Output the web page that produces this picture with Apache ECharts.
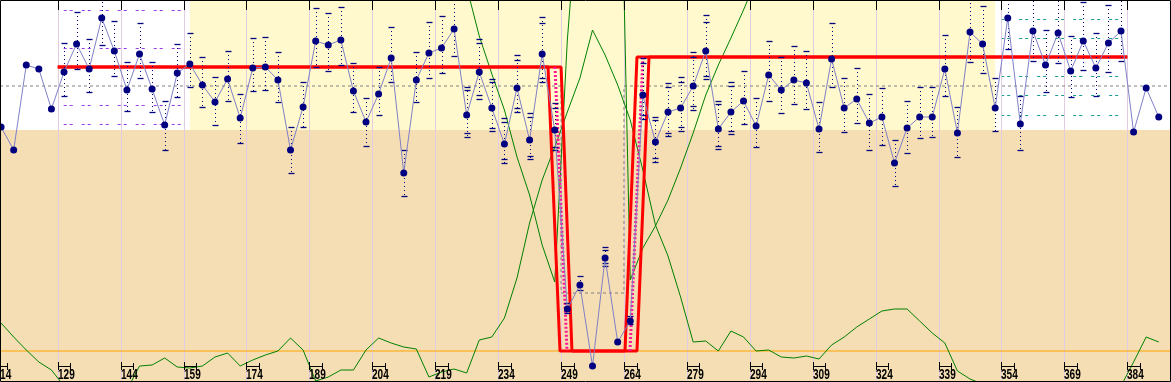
<!DOCTYPE html>
<html>
<head>
<meta charset="utf-8">
<script src="https://cdn.jsdelivr.net/npm/echarts/dist/echarts.min.js"></script>
<style>html,body{margin:0;padding:0;background:#fff;}#c{width:1171px;height:382px;}</style>
</head>
<body>
<div id="c"></div>
<script>
// ---- DATA ----
const binWidth = 3;
const binCenters = [115.5,118.5,121.5,124.5,127.5,130.5,133.5,136.5,139.5,142.5,
 145.5,148.5,151.5,154.5,157.5,160.5,163.5,166.5,169.5,172.5,
 175.5,178.5,181.5,184.5,187.5,190.5,193.5,196.5,199.5,202.5,
 205.5,208.5,211.5,214.5,217.5,220.5,223.5,226.5,229.5,232.5,
 235.5,238.5,241.5,244.5,247.5,250.5,253.5,256.5,259.5,262.5,
 265.5,268.5,271.5,274.5,277.5,280.5,283.5,286.5,289.5,292.5,
 295.5,298.5,301.5,304.5,307.5,310.5,313.5,316.5,319.5,322.5,
 325.5,328.5,331.5,334.5,337.5,340.5,343.5,346.5,349.5,352.5,
 355.5,358.5,361.5,364.5,367.5,370.5,373.5,376.5,379.5,382.5,
 385.5,388.5,391.5];
const tickLabels = [114,129,144,159,174,189,204,219,234,249,264,279,294,309,324,339,354,369,384];

const values = [254,231,316,312,272,309,337,312,363,330,
 291,327,292,256,308,317,296,279,302,263,
 313,314,301,231,274,340,336,341,290,259,
 287,323,208,301,328,333,352,266,309,273,
 237,293,241,327,251,72,96,15,123,39,
 60,286,239,269,273,295,330,252,269,280,
 255,306,291,301,298,252,322,273,282,258,
 264,218,253,264,264,312,248,349,337,273,
 363,257,350,316,348,310,340,313,338,350,
 249,293,264];

const errHigh = [null,null,null,null,null,338,369,342,391,360,
 319,358,319,280,337,348,324,304,330,287,
 343,344,329,254,299,373,368,374,318,283,
 314,354,231,329,359,365,389,294,342,302,
 263,326,268,364,278,78,105,null,134,null,
 65,323,264,298,304,329,366,280,299,310,
 283,340,324,335,330,279,358,303,313,287,
 293,241,280,294,294,346,274,386,375,303,
 393,285,384,351,384,345,379,348,376,384,
 null,null,null];
const errLow = [null,null,null,null,null,285,312,289,336,305,
 270,303,269,231,284,294,274,256,280,238,
 290,291,279,208,254,314,310,316,269,235,
 266,299,185,279,303,308,325,244,282,250,
 218,269,222,299,231,68,91,null,115,null,
 57,262,219,245,250,271,302,232,247,257,
 234,280,268,277,272,229,294,249,258,231,
 236,195,228,243,244,285,224,319,308,250,
 332,231,320,289,318,284,311,285,309,320,
 null,null,null];
const innerHigh = [null,null,null,null,null,null,null,null,null,null,
 null,null,null,null,null,null,null,null,null,null,
 null,null,null,null,null,null,null,null,null,null,
 null,null,null,null,null,null,null,291,338,299,
 259,321,264,358,273,null,null,null,131,null,
 null,318,261,294,299,324,359,277,295,null,
 null,null,null,null,null,null,null,null,null,null,
 null,null,null,null,null,null,null,null,null,null,
 null,null,null,null,null,null,null,null,null,null,
 null,null,null];
const innerLow = [null,null,null,null,null,null,null,null,null,null,
 null,null,null,null,null,null,null,null,null,null,
 null,null,null,null,null,null,null,null,null,null,
 null,null,null,null,null,null,null,248,286,253,
 222,273,225,303,234,null,null,null,118,null,
 null,266,223,248,254,275,305,235,250,null,
 null,null,null,null,null,null,null,null,null,null,
 null,null,null,null,null,null,null,null,null,null,
 null,null,null,null,null,null,null,null,null,null,
 null,null,null];

const greenMain = [58,44,31,19,11,-5,-15,-20,-18,-14,
 -9,15,16,23,14,13,15,24,28,15,
 21,26,30,43,31,0,4,11,11,31,
 43,38,34,32,4,9,12,8,41,44,
 63,103,158,201,234,269,303,351,326,296,
 261,211,156,125,84,39,40,30,50,44,
 30,31,24,23,25,22,36,44,54,62,
 70,72,72,60,48,38,10,2,-3,-10,
 -15,-20,-25,-22,-18,-20,-25,-20,-12,-5,
 19,44,39];
const greenScan = [null,null,null,null,null,null,null,null,null,null,
 null,null,null,null,null,null,null,null,null,null,
 null,null,null,null,null,null,null,null,null,null,
 null,null,null,null,null,null,441,394,345,307,
 271,224,186,136,99,341,501,781,781,681,
 101,133,155,181,213,248,286,316,343,371,
 401,null,null,null,null,null,null,null,null,null,
 null,null,null,null,null,null,null,null,null,null,
 null,null,null,null,null,null,null,null,null,null,
 null,null,null];

// fitted step model (red) and its transition bands
const fitLevels = [314, 30, 324];
const fitRange = [129, 384];
const dropEarly = [245.9, 248.75], dropLate = [249.0, 251.6], dropMid = [247.56, 250.42];
const riseEarly = [264.24, 267.1], riseLate = [267.1, 269.97], riseMid = [265.44, 268.53];
// mean step (grey dashed)
const meanLevels = [295, 88, 295];
const meanChanges = [249, 264];
const baseline = 30;
// shaded zones
const zoneLevel = 251;
const yellowZone = [160.5, 352.5];
const refLeft = [129, 160.5], refLeftLevels = [371, 333, 276, 257];
const refRight = [352.5, 384], refRightLevels = [362, 343, 305, 286, 266];

// ---- CHART ----
const xMin = 115.24, xMax = 394.18, yMin = 0, yMax = 381;
const chart = echarts.init(document.getElementById('c'), null, {renderer: 'canvas'});
const crisp = v => Math.round(v) + 0.5;
const isNum = v => v !== null && v !== undefined && !isNaN(v);

function pairs(xs, ys) { const out = []; for (let i = 0; i < xs.length; i++) if (isNum(ys[i])) out.push([xs[i], ys[i]]); return out; }
function breaks(xs, ys) { return xs.map((x, i) => [x, isNum(ys[i]) ? ys[i] : null]); }

const earlyLine = [[fitRange[0], fitLevels[0]], [dropEarly[0], fitLevels[0]], [dropEarly[1], fitLevels[1]], [riseEarly[0], fitLevels[1]], [riseEarly[1], fitLevels[2]], [fitRange[1], fitLevels[2]]];
const lateLine = [[fitRange[0], fitLevels[0]], [dropLate[0], fitLevels[0]], [dropLate[1], fitLevels[1]], [riseLate[0], fitLevels[1]], [riseLate[1], fitLevels[2]], [fitRange[1], fitLevels[2]]];
const meanLine = [[xMin, meanLevels[0]], [meanChanges[0], meanLevels[0]], [meanChanges[0], meanLevels[1]], [meanChanges[1], meanLevels[1]], [meanChanges[1], meanLevels[2]], [xMax, meanLevels[2]]];

const errData = [];
for (let i = 0; i < binCenters.length; i++) {
  if (isNum(errHigh[i]) && isNum(errLow[i])) errData.push([binCenters[i], errHigh[i], errLow[i], isNum(innerHigh[i]) ? innerHigh[i] : null, isNum(innerLow[i]) ? innerLow[i] : null]);
}

function sigmaSeries(range, levels, color) {
  return {
    type: 'custom', z: 1, silent: true,
    data: levels.map(l => [range[0], l, range[1]]),
    encode: {x: [0, 2], y: 1},
    renderItem: (params, api) => {
      const p0 = api.coord([api.value(0), api.value(1)]);
      const p1 = api.coord([api.value(2), api.value(1)]);
      const y = crisp(p0[1]);
      return {type: 'line', shape: {x1: p0[0] + 6, y1: y, x2: p1[0], y2: y}, style: {stroke: color, lineWidth: 1, lineDash: [3, 3, 3, 9]}};
    }
  };
}

const option = {
  animation: false,
  grid: {left: 0, top: 0, width: 1170, height: 381, show: true, backgroundColor: '#ffffff', borderWidth: 0},
  xAxis: {type: 'value', min: xMin, max: xMax, show: false},
  yAxis: {type: 'value', min: yMin, max: yMax, show: false},
  series: [
    { // background zones
      type: 'custom', z: 0, silent: true, data: [[xMin, yMin]],
      renderItem: (params, api) => {
        const cs = params.coordSys;
        const yT = api.coord([xMin, zoneLevel])[1];
        const x0 = api.coord([yellowZone[0], 0])[0], x1 = api.coord([yellowZone[1], 0])[0];
        return {type: 'group', children: [
          {type: 'rect', shape: {x: cs.x, y: yT, width: cs.width, height: cs.y + cs.height - yT}, style: {fill: '#F5DEB3'}},
          {type: 'rect', shape: {x: x0, y: cs.y, width: x1 - x0, height: yT - cs.y}, style: {fill: '#FFF9CD'}}
        ]};
      }
    },
    sigmaSeries(refLeft, refLeftLevels, '#9A3CE6'),
    sigmaSeries(refRight, refRightLevels, '#1A9A8A'),
    { // vertical grid lines
      type: 'custom', z: 2, silent: true,
      data: tickLabels.map(t => [t, 0]),
      renderItem: (params, api) => {
        const cs = params.coordSys;
        const x = crisp(api.coord([api.value(0), 0])[0]);
        return {type: 'line', shape: {x1: x, y1: cs.y, x2: x, y2: cs.y + cs.height}, style: {stroke: '#E2CCE2', lineWidth: 1}};
      }
    },
    {type: 'line', z: 3, data: meanLine, symbol: 'none', silent: true, lineStyle: {color: '#808080', width: 1, type: [3, 3]}},
    {type: 'line', z: 3, data: [[xMin, baseline], [xMax, baseline]], symbol: 'none', silent: true, lineStyle: {color: '#FFA500', width: 1}},
    {type: 'line', z: 4, data: breaks(binCenters, greenMain), symbol: 'none', silent: true, clip: true, lineStyle: {color: '#008000', width: 1}},
    {type: 'line', z: 4, data: breaks(binCenters, greenScan), symbol: 'none', silent: true, clip: true, connectNulls: false, lineStyle: {color: '#008000', width: 1}},
    {type: 'line', z: 5, data: earlyLine, symbol: 'none', silent: true, lineStyle: {color: '#FF0000', width: 3}},
    {type: 'line', z: 5, data: lateLine, symbol: 'none', silent: true, lineStyle: {color: '#FF0000', width: 3}},
    {type: 'line', z: 6, data: [[dropMid[0], fitLevels[0]], [dropMid[1], fitLevels[1]]], symbol: 'none', silent: true, lineStyle: {color: '#FF1493', width: 3, type: [2, 2]}},
    {type: 'line', z: 6, data: [[riseMid[0], fitLevels[1]], [riseMid[1], fitLevels[2]]], symbol: 'none', silent: true, lineStyle: {color: '#FF1493', width: 3, type: [2, 2]}},
    { // error bars
      type: 'custom', z: 7, silent: true, data: errData,
      encode: {x: 0, y: [1, 2]},
      renderItem: (params, api) => {
        const x = api.value(0);
        const pH = api.coord([x, api.value(1)]), pL = api.coord([x, api.value(2)]);
        const cx = crisp(pH[0]);
        const cap = y => ({type: 'line', shape: {x1: cx - 3, y1: crisp(y), x2: cx + 3, y2: crisp(y)}, style: {stroke: '#000080', lineWidth: 1.3}});
        const ch = [
          {type: 'line', shape: {x1: cx, y1: pH[1], x2: cx, y2: pL[1]}, style: {stroke: '#000080', lineWidth: 1, lineDash: [1, 3]}},
          cap(pH[1]), cap(pL[1])
        ];
        const ih = api.value(3), il = api.value(4);
        if (isNum(ih)) ch.push(cap(api.coord([x, ih])[1]));
        if (isNum(il)) ch.push(cap(api.coord([x, il])[1]));
        return {type: 'group', children: ch};
      }
    },
    {type: 'line', z: 8, data: pairs(binCenters, values), symbol: 'circle', symbolSize: 7, showAllSymbol: true, silent: true,
      itemStyle: {color: '#000080', borderWidth: 0}, lineStyle: {color: '#8080C8', width: 1}},
    { // top ticks, bottom brackets, labels, frame
      type: 'custom', z: 10, silent: true,
      data: tickLabels.map(t => [t, 0]),
      renderItem: (params, api) => {
        const cs = params.coordSys;
        const t = api.value(0);
        const x = crisp(api.coord([t, 0])[0]);
        const x2 = crisp(api.coord([t + binWidth, 0])[0]);
        const b = cs.y + cs.height;
        const ch = [
          {type: 'line', shape: {x1: x, y1: cs.y, x2: x, y2: cs.y + 10}, style: {stroke: '#000', lineWidth: 1}},
          {type: 'line', shape: {x1: x, y1: b - 19, x2: x, y2: b - 11}, style: {stroke: '#000', lineWidth: 1}},
          {type: 'line', shape: {x1: x, y1: b - 14.5, x2: x2, y2: b - 14.5}, style: {stroke: '#000', lineWidth: 1}},
          {type: 'line', shape: {x1: x2, y1: b - 18, x2: x2, y2: b - 11}, style: {stroke: '#000', lineWidth: 1}},
          {type: 'text', x: x - 0.5, y: b - 6, scaleX: 0.72, scaleY: 1, originX: 0, originY: 0,
            style: {text: String(t), fill: '#000', fontSize: 14, fontWeight: 'bold', fontFamily: "'Liberation Sans', Arial, sans-serif", align: 'left', verticalAlign: 'middle'}}
        ];
        if (params.dataIndex === 0) {
          ch.push({type: 'rect', shape: {x: cs.x + 0.5, y: cs.y + 0.5, width: cs.width, height: cs.height}, style: {fill: 'none', stroke: '#000', lineWidth: 1}});
        }
        return {type: 'group', children: ch};
      }
    }
  ]
};
chart.setOption(option);
</script>
</body>
</html>
